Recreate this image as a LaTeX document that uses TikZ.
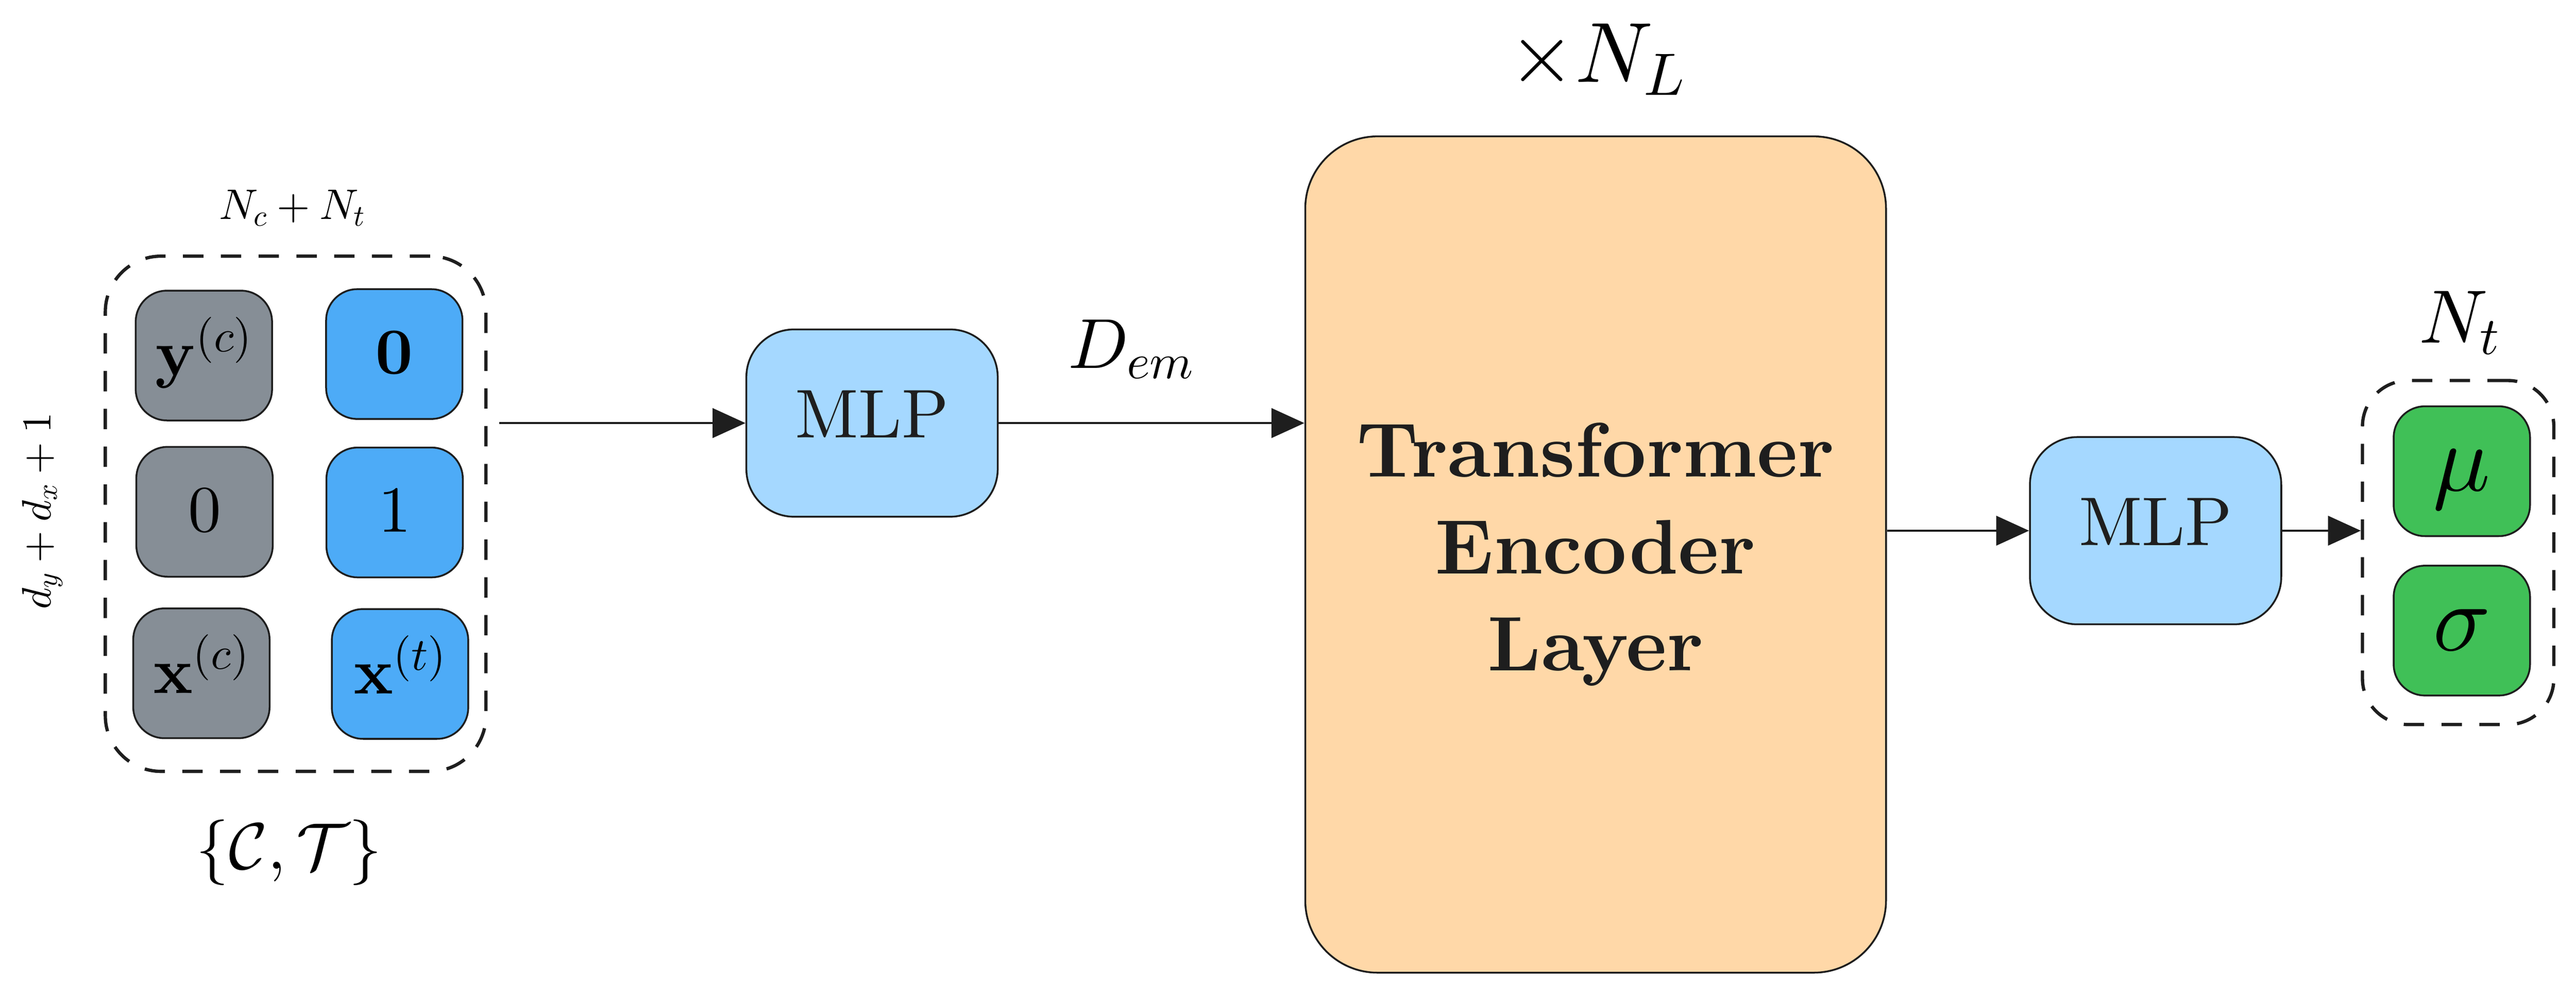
\documentclass[tikz,border=0pt]{standalone}
\usepackage[OT1]{fontenc}
\usepackage{amsmath,bm}
\renewcommand\rmdefault{cmr}
\renewcommand\bfdefault{bx}
\DeclareFontFamily{OT1}{cmr}{\hyphenchar\font45 }
\DeclareFontShape{OT1}{cmr}{m}{n}{<->cmr10}{}
\DeclareFontShape{OT1}{cmr}{bx}{n}{<->cmbx10}{}
\DeclareFontShape{OML}{cmm}{m}{it}{<->cmmi10}{}
\DeclareFontShape{OML}{cmm}{b}{it}{<->cmmib10}{}
\DeclareFontShape{OMS}{cmsy}{m}{n}{<->cmsy10}{}
\DeclareFontShape{OMS}{cmsy}{b}{n}{<->cmbsy10}{}
\usetikzlibrary{arrows.meta}
\definecolor{ink}{HTML}{1E1E1E}
\definecolor{cgray}{HTML}{868E96}
\definecolor{cblue}{HTML}{4DABF7}
\definecolor{lblue}{HTML}{A5D8FF}
\definecolor{cgreen}{HTML}{40C057}
\definecolor{peach}{HTML}{FFD8A8}
\begin{document}
\fontencoding{OT1}\fontfamily{cmr}\selectfont
\begin{tikzpicture}[x=1pt,y=-1pt,
  cell/.style={draw=ink,line width=1.1pt,rounded corners=19pt,minimum width=83pt,minimum height=79pt,inner sep=0pt,text height=30pt,text depth=6pt,font=\fontsize{40}{48}\selectfont},
  gcell/.style={cell,fill=cgray},
  bcell/.style={cell,fill=cblue},
  rcell/.style={cell,fill=cgreen,font=\fontsize{58}{64}\selectfont},
  mlpbox/.style={draw=ink,fill=lblue,text=ink,line width=1.1pt,rounded corners=29pt,minimum width=153pt,minimum height=114pt,inner sep=0pt,text height=27pt,text depth=9pt,font=\fontsize{42}{48}\selectfont},
  trbox/.style={draw=ink,fill=peach,text=ink,line width=1.1pt,rounded corners=44pt,minimum width=353.5pt,minimum height=509pt,inner sep=0pt,align=center,font=\fontsize{47}{59}\selectfont\bfseries},
  group/.style={draw=ink,line width=2pt,dash pattern=on 12.4pt off 10.6pt,inner sep=0pt},
  arr/.style={draw=ink,line width=1.1pt,-{Triangle[length=20pt,width=18pt]}},
  lab/.style={inner sep=0pt,anchor=base}
]
\useasboundingbox (0,0) rectangle (1568,606.6);

% input group
\node[group,rounded corners=34pt,minimum width=231.7pt,minimum height=313.6pt] (inbox) at (179.95,312.7) {};
\node[gcell] (g1) at (124.1,216.4) {$\mathbf{y}^{(c)}$};
\node[bcell] (b1) at (240.0,215.5) {$\mathbf{0}$};
\node[gcell] (g2) at (124.5,311.5) {$0$};
\node[bcell] (b2) at (240.2,311.9) {$1$};
\node[gcell] (g3) at (122.6,409.8) {$\mathbf{x}^{(c)}$};
\node[bcell] (b3) at (243.5,410.2) {$\mathbf{x}^{(t)}$};

\node[lab,font=\fontsize{26}{30}\selectfont] (ncnt) at (178,133.5) {$N_c + N_t$};
\node[lab,rotate=90,font=\fontsize{25}{30}\selectfont] (dim) at (31,311) {$d_y + d_x + 1$};
\node[lab,font=\fontsize{40}{48}\selectfont] (ct) at (176,529) {$\{\mathcal{C},\mathcal{T}\}$};

% first MLP
\node[mlpbox] (mlpA) at (530.8,257.5) {MLP};
\node[lab,font=\fontsize{43}{50}\selectfont] (dem) at (688.6,224) {$D_{em}$};

% transformer
\node[trbox] (tr) at (971.25,337.5) {Transformer\\Encoder\\Layer};
\node[lab,font=\fontsize{52}{60}\selectfont] (nl) at (972,50) {$\times N_L$};

% second MLP
\node[mlpbox] (mlpB) at (1312.1,323) {MLP};

% output group
\node[group,rounded corners=28pt,minimum width=116.5pt,minimum height=209.4pt] (outbox) at (1496.25,336.3) {};
\node[rcell] (mu) at (1498.5,286.8) {$\mu$};
\node[rcell] (sg) at (1498.5,383.8) {$\sigma$};
\node[lab,font=\fontsize{46}{54}\selectfont] (nt) at (1497,208.8) {$N_t$};

% connectors
\coordinate (start) at ([xshift=7pt]inbox.east |- mlpA.west);
\draw[arr] (start) -- (mlpA.west);
\draw[arr] (mlpA.east) -- (mlpA.east -| tr.west);
\draw[arr] (tr.east |- mlpB.west) -- (mlpB.west);
\draw[arr] (mlpB.east) -- (mlpB.east -| outbox.west);
\end{tikzpicture}
\end{document}
